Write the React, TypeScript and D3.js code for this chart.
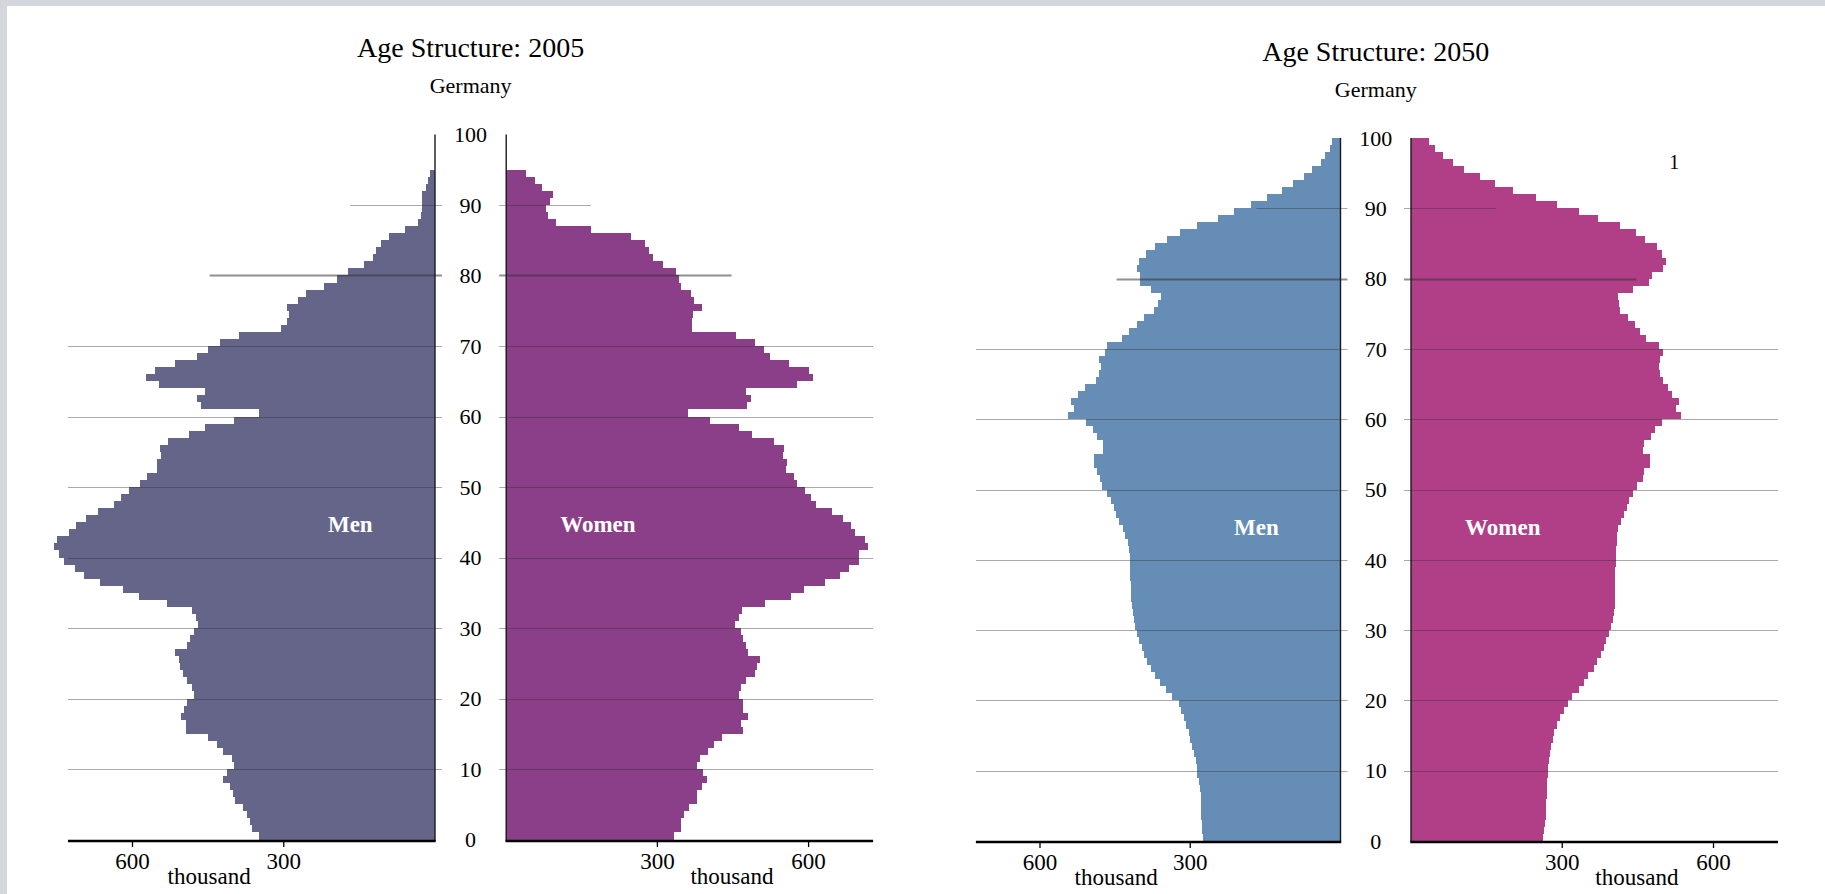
import React from 'react';
import * as d3 from 'd3';

// ---------- DATA (thousand persons by single year of age) ----------
const MEN_2005 = [
  350, 363, 367, 372, 381, 397, 401, 406, 420, 413,
  399, 403, 421, 432, 450, 494, 494, 504, 498, 491,
  478, 482, 491, 499, 506, 508, 515, 492, 486, 479,
  471, 475, 482, 531, 588, 619, 664, 697, 715, 736,
  745, 755, 749, 725, 712, 692, 669, 637, 623, 606,
  586, 572, 552, 552, 543, 545, 530, 487, 457, 399,
  350, 465, 472, 457, 548, 573, 555, 515, 472, 451,
  426, 388, 305, 294, 290, 294, 272, 256, 221, 194,
  173, 140, 122, 118, 108, 92, 59, 34, 28, 25,
  26, 26, 18, 13, 10,
];
const WOMEN_2005 = [
  333, 346, 346, 353, 363, 379, 379, 388, 399, 391,
  379, 385, 400, 412, 428, 470, 465, 480, 470, 469,
  461, 465, 475, 494, 498, 504, 480, 475, 469, 465,
  453, 461, 468, 514, 566, 590, 633, 662, 681, 700,
  700, 717, 712, 692, 685, 669, 647, 614, 604, 592,
  576, 572, 556, 558, 549, 552, 531, 488, 461, 404,
  361, 478, 486, 476, 576, 609, 600, 562, 524, 511,
  493, 455, 369, 368, 371, 389, 373, 367, 346, 342,
  336, 311, 291, 283, 275, 248, 169, 98, 82, 78,
  87, 92, 72, 57, 39,
];
const MEN_2050 = [
  274, 276, 277, 278, 278, 279, 279, 281, 283, 286,
  286, 289, 293, 296, 300, 303, 309, 313, 318, 323,
  337, 349, 361, 370, 379, 387, 393, 397, 402, 407,
  410, 413, 415, 417, 418, 418, 419, 420, 420, 421,
  421, 422, 425, 430, 435, 442, 449, 452, 458, 466,
  477, 481, 486, 493, 492, 475, 474, 486, 495, 508,
  544, 532, 539, 524, 511, 489, 483, 479, 483, 470,
  467, 437, 423, 407, 393, 373, 365, 358, 379, 400,
  400, 407, 402, 388, 370, 347, 320, 286, 245, 213,
  178, 146, 117, 94, 73, 56, 39, 30, 21, 16,
];
const WOMEN_2050 = [
  261, 264, 266, 267, 268, 268, 269, 269, 270, 271,
  272, 273, 275, 277, 281, 284, 290, 296, 304, 312,
  320, 333, 344, 352, 362, 369, 377, 382, 387, 392,
  396, 401, 403, 404, 405, 405, 405, 405, 405, 406,
  406, 406, 408, 408, 410, 417, 422, 428, 433, 440,
  448, 460, 463, 475, 474, 461, 462, 477, 484, 497,
  535, 525, 532, 517, 509, 500, 494, 491, 494, 500,
  492, 466, 454, 444, 431, 414, 412, 411, 440, 472,
  479, 500, 505, 498, 488, 464, 446, 414, 371, 334,
  290, 248, 202, 166, 136, 105, 84, 64, 48, 36,
];
const AGE_TICKS = [0, 10, 20, 30, 40, 50, 60, 70, 80, 90, 100];
const VALUE_TICKS = [300, 600];
const GRID_AGES = [10, 20, 30, 40, 50, 60, 70, 80, 90];
const GRID_EXTENT = [728, 728, 728, 728, 728, 728, 728, 447, 168];
const AXIS_MAX = 728;

const FONT = '"Liberation Serif", "Times New Roman", Times, serif';

type Panel = {
  title: string;
  men: number[];
  women: number[];
  menColor: string;
  womenColor: string;
  menX0: number; menX600: number;
  womenX0: number; womenX600: number;
  y0: number; y100: number; axisY: number;
  note?: string;
};

const PANELS: Panel[] = [
  {
    title: 'Age Structure: 2005', men: MEN_2005, women: WOMEN_2005,
    menColor: '#646589', womenColor: '#8b3f89',
    menX0: 435, menX600: 132.5, womenX0: 506.2, womenX600: 808.6,
    y0: 839.5, y100: 134.5, axisY: 841,
  },
  {
    title: 'Age Structure: 2050', men: MEN_2050, women: WOMEN_2050,
    menColor: '#668db5', womenColor: '#b03f88',
    menX0: 1340.5, menX600: 1040, womenX0: 1411, womenX600: 1713.5,
    y0: 841, y100: 138, axisY: 842, note: '1',
  },
];

function Pyramid({ p }: { p: Panel }) {
  const y = d3.scaleLinear().domain([0, 100]).range([p.y0, p.y100]);
  const xm = d3.scaleLinear().domain([0, 600]).range([p.menX0, p.menX600]);
  const xw = d3.scaleLinear().domain([0, 600]).range([p.womenX0, p.womenX600]);
  const mid = (xm(0) + xw(0)) / 2;
  const gridStroke = '#333';
  const top = (a: number) => Math.round(y(a + 1));
  const bot = (a: number) => Math.round(y(a));
  return (
    <g fontFamily={FONT}>
      <text x={mid} y={p.y100 - 77.5} textAnchor="middle" fontSize={28} fill="#000">{p.title}</text>
      <text x={mid} y={p.y100 - 41.5} textAnchor="middle" fontSize={22} fill="#000">Germany</text>

      <g shapeRendering="crispEdges">
        {p.men.map((v, a) => (
          <rect key={'m' + a} x={xm(v)} y={top(a)} width={xm(0) - xm(v)}
            height={bot(a) - top(a)} fill={p.menColor} />
        ))}
        {p.women.map((v, a) => (
          <rect key={'w' + a} x={xw(0)} y={top(a)} width={xw(v) - xw(0)}
            height={bot(a) - top(a)} fill={p.womenColor} />
        ))}
      </g>

      {GRID_AGES.map((age, i) => {
        const gy = Math.round(y(age)) + 0.5;
        const sw = age === 80 ? 2.2 : 1.2;
        const op = age === 80 ? 0.55 : 0.42;
        return (
          <g key={'g' + age}>
            <line x1={xm(GRID_EXTENT[i])} x2={xm(0) + 7} y1={gy} y2={gy}
              stroke={gridStroke} strokeOpacity={op} strokeWidth={sw} />
            <line x1={xw(0) - 7} x2={xw(GRID_EXTENT[i])} y1={gy} y2={gy}
              stroke={gridStroke} strokeOpacity={op} strokeWidth={sw} />
          </g>
        );
      })}

      <line x1={xm(0)} x2={xm(0)} y1={y(100)} y2={p.axisY} stroke="#1a1a1a" strokeWidth={1.4} />
      <line x1={xw(0)} x2={xw(0)} y1={y(100)} y2={p.axisY} stroke="#1a1a1a" strokeWidth={1.4} />
      <line x1={xm(AXIS_MAX)} x2={xm(0) + 0.7} y1={p.axisY} y2={p.axisY} stroke="#000" strokeWidth={2.6} />
      <line x1={xw(0) - 0.7} x2={xw(AXIS_MAX)} y1={p.axisY} y2={p.axisY} stroke="#000" strokeWidth={2.6} />

      {VALUE_TICKS.map((t) => (
        <g key={'t' + t}>
          <line x1={xm(t)} x2={xm(t)} y1={p.axisY} y2={p.axisY + 6} stroke="#000" strokeWidth={1.3} />
          <line x1={xw(t)} x2={xw(t)} y1={p.axisY} y2={p.axisY + 6} stroke="#000" strokeWidth={1.3} />
          <text x={xm(t)} y={p.axisY + 28} textAnchor="middle" fontSize={23} fill="#000">{t}</text>
          <text x={xw(t)} y={p.axisY + 28} textAnchor="middle" fontSize={23} fill="#000">{t}</text>
        </g>
      ))}
      <text x={xm(448)} y={p.axisY + 43} textAnchor="middle" fontSize={23} fill="#000">thousand</text>
      <text x={xw(448)} y={p.axisY + 43} textAnchor="middle" fontSize={23} fill="#000">thousand</text>

      {AGE_TICKS.map((a) => (
        <text key={'a' + a} x={mid} y={y(a)} dy="0.35em" textAnchor="middle" fontSize={22} fill="#000">{a}</text>
      ))}

      <text x={xm(168)} y={y(44) + 3} textAnchor="middle" fontSize={23} fontWeight="bold" fill="#fff">Men</text>
      <text x={xw(182)} y={y(44) + 3} textAnchor="middle" fontSize={23} fontWeight="bold" fill="#fff">Women</text>

      {p.note ? (
        <text x={xw(522)} y={y(96) + 3} textAnchor="middle" fontSize={20} fill="#000">{p.note}</text>
      ) : null}
    </g>
  );
}

export default function App() {
  return (
    <svg width={1825} height={894} style={{ position: 'absolute', left: 0, top: 0 }}>
      <rect x={0} y={0} width={1825} height={894} fill="#d3d6dd" />
      <rect x={7} y={6} width={1818} height={888} fill="#ffffff" />
      {PANELS.map((p) => <Pyramid key={p.title} p={p} />)}
    </svg>
  );
}
